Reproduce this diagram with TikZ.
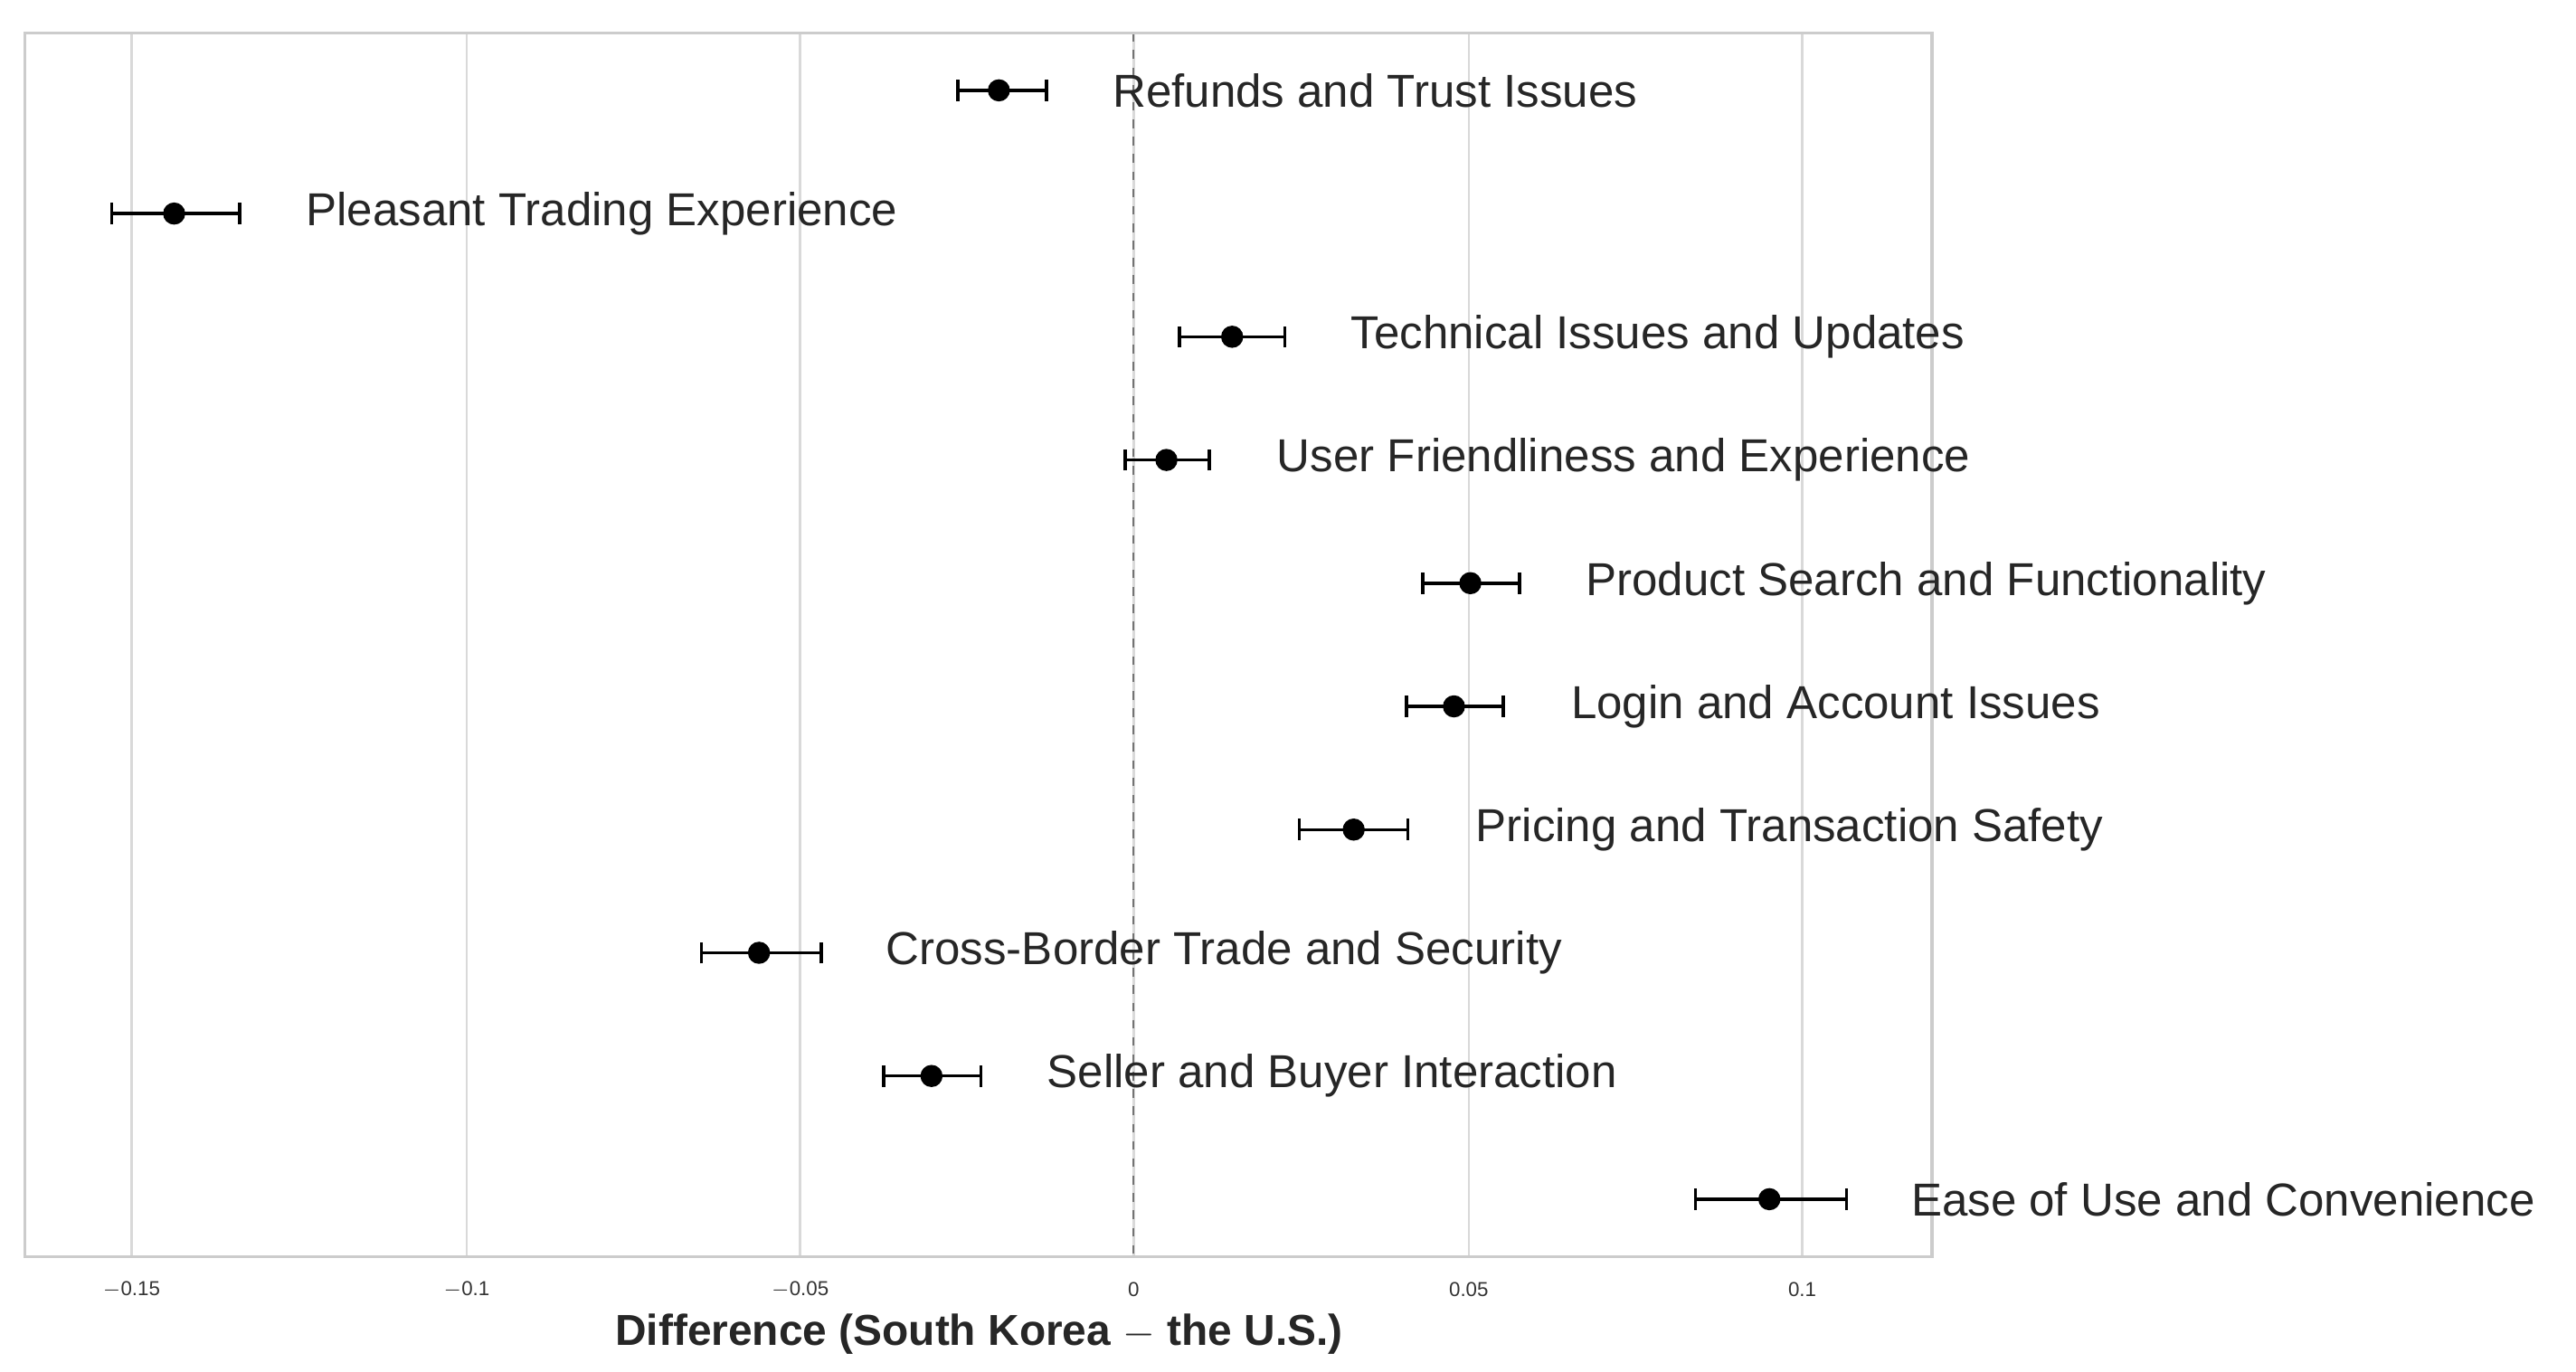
\documentclass[tikz,border=0pt]{standalone}
\usepackage{fontspec}
\setmainfont{Liberation Sans}
\begin{document}
\begin{tikzpicture}[x=0.02cm,y=-0.02cm,
  grid/.style={draw=black!15,line width=0.8pt},
  bar/.style={line width=1.1pt},
  dot/.style={circle,fill=black,inner sep=0pt,minimum size=0.27cm},
  lab/.style={anchor=west,font=\fontsize{16}{18}\selectfont,text=black!85,inner sep=0pt},
  tick/.style={font=\fontsize{7}{8}\selectfont,text=black!80}]
\useasboundingbox (0,0) rectangle (1568,835);
\foreach \x/\t in {80/{$-$0.15},284/{$-$0.1},487/{$-$0.05},690/0,894/0.05,1097/0.1}{
  \draw[grid] (\x,20) -- (\x,765);
  \node[tick] at (\x,785) {\t};
}
\draw[dashed,black!55,line width=0.7pt] (690,20) -- (690,765);
\draw[black!20,line width=1pt] (15,20) rectangle (1176,765);
\foreach \i/\y/\m/\l/\r/\lx/\txt in {
 1/55/608/583/637/677/{Refunds and Trust Issues},
 2/130/106/68/146/186/{Pleasant Trading Experience},
 3/205/750/718/782/822/{Technical Issues and Updates},
 4/280/710/685/736/777/{User Friendliness and Experience},
 5/355/895/866/925/965/{Product Search and Functionality},
 6/430/885/856/915/956/{Login and Account Issues},
 7/505/824/791/857/898/{Pricing and Transaction Safety},
 8/580/462/427/500/539/{Cross-Border Trade and Security},
 9/655/567/538/597/637/{Seller and Buyer Interaction},
 10/730/1077/1032/1124/1163/{Ease of Use and Convenience}}{
  \coordinate (l\i) at (\l,\y);
  \coordinate (r\i) at (\r,\y);
  \draw[bar] (l\i) -- (r\i);
  \draw[bar] ([yshift=-0.13cm]l\i) -- ([yshift=0.13cm]l\i);
  \draw[bar] ([yshift=-0.13cm]r\i) -- ([yshift=0.13cm]r\i);
  \node[dot] (p\i) at (\m,\y) {};
  \node[lab] (t\i) at (\lx,\y) {\txt};
}
\node[font=\bfseries\fontsize{15}{17}\selectfont,text=black!85] (xl) at (596,812) {Difference (South Korea $-$ the U.S.)};
\end{tikzpicture}
\end{document}
